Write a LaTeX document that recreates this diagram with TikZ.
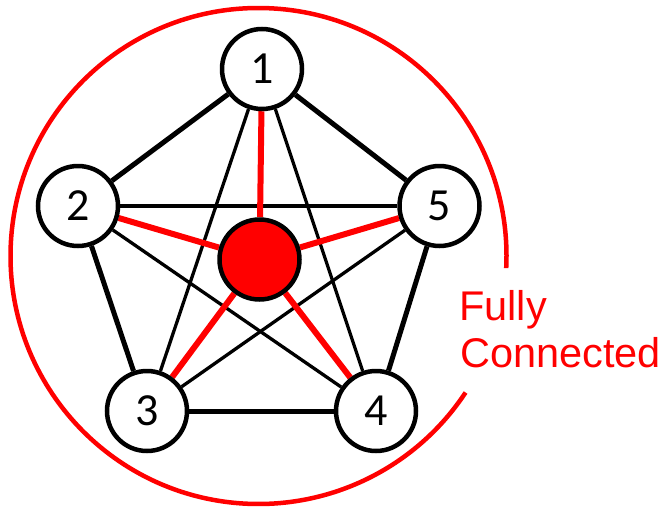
\documentclass[tikz,border=0pt]{standalone}
\usepackage{fontspec}
\setmainfont{Carlito}
\newfontfamily\labelfont{Liberation Sans}
\usetikzlibrary{backgrounds}
\definecolor{fcred}{RGB}{255,0,0}
\begin{document}
\begin{tikzpicture}[x=1pt,y=-1pt,
  peer/.style={circle,draw=black,line width=4.5pt,fill=white,minimum size=80pt,inner sep=0pt,
    font=\fontsize{46}{46}\selectfont},
  hub/.style={peer,fill=fcred},
  ring/.style={black,line width=5pt},
  chord/.style={black,line width=3.3pt},
  spoke/.style={fcred,line width=6pt},
  label/.style={text=fcred,anchor=base west,inner sep=0pt,font=\labelfont\fontsize{41.5}{47}\selectfont}]
\useasboundingbox (0,0) rectangle (668,506);
\draw[fcred,line width=4.5pt] (258.5,256) ++(2.8:248) arc[start angle=2.8,end angle=-326.6,radius=248];
\node[peer] (n1) at (262,69) {1};
\node[peer] (n2) at (78,206) {2};
\node[peer] (n5) at (439.5,206) {5};
\node[peer] (n3) at (147,411) {3};
\node[peer] (n4) at (376,411) {4};
\node[hub] (c) at (259.5,259.5) {};
\node[label] (t1) at (459,320) {Fully};
\node[label] (t2) at (460,367) {Connected};
\begin{scope}[on background layer]
\draw[ring] (n1) -- (n2);
\draw[ring] (n1) -- (n5);
\draw[ring] (n2) -- (n3);
\draw[ring] (n5) -- (n4);
\draw[ring] (n3) -- (n4);
\draw[chord] (n1) -- (n3);
\draw[chord] (n1) -- (n4);
\draw[chord] (n2) -- (n5);
\draw[chord] (n2) -- (n4);
\draw[chord] (n3) -- (n5);
\foreach \n in {n1,n2,n3,n4,n5} \draw[spoke] (c) -- (\n);
\end{scope}
\end{tikzpicture}
\end{document}
